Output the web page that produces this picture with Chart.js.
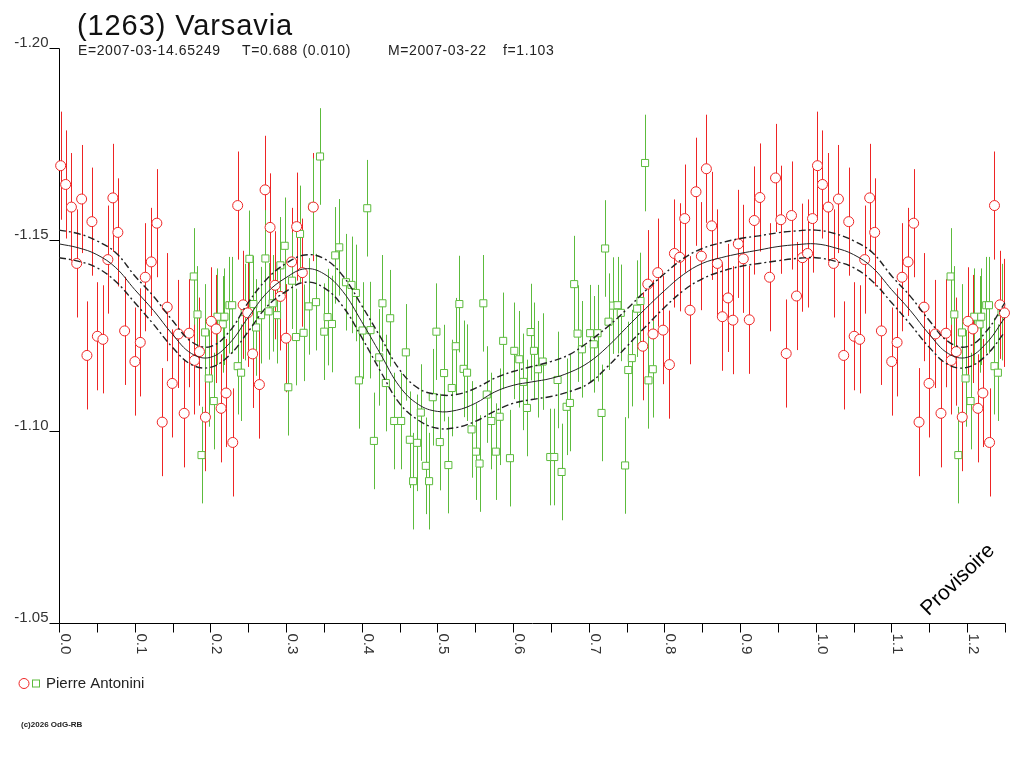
<!DOCTYPE html>
<html>
<head>
<meta charset="utf-8">
<title>(1263) Varsavia</title>
<script src="https://cdn.jsdelivr.net/npm/chart.js@4.4.0/dist/chart.umd.min.js"></script>
<style>
    html, body { margin: 0; padding: 0; background: #ffffff; }
    #wrap { position: relative; width: 1024px; height: 768px; }
</style>
</head>
<body>
<div id="wrap"><canvas id="lightcurve"></canvas></div>
<script>
/* ===== Données ===== */

// Série rouge (cercles)
const redPhase = [0.0022,0.0088,0.0164,0.0299,0.0234,0.0369,0.0435,0.0507,0.0580,0.0646,
    0.0712,0.0778,0.0867,0.1003,0.1074,0.1140,0.1219,0.1293,0.1364,0.1430,
    0.1496,0.1579,0.1654,0.1720,0.1790,0.1856,0.1935,0.2011,0.2077,0.2142,
    0.2208,0.2296,0.2361,0.2433,0.2493,0.2559,0.2648,0.2723,0.2789,0.2855,
    0.2925,0.3000,0.3074,0.3140,0.3215,0.3360,
    0.7714,0.7780,0.7850,0.7912,0.7982,0.8066,0.8132,0.8202,0.8268,0.8338,
    0.8417,0.8488,0.8554,0.8624,0.8699,0.8765,0.8839,0.8905,0.8976,0.9042,
    0.9121,0.9187,0.9261,0.9389,0.9468,0.9538,0.9609,0.9679,0.9745,0.9824,
    0.9891,0.9957];
const redMag = [-1.1693,-1.1644,-1.1585,-1.1606,-1.1438,-1.1198,-1.1547,-1.1248,-1.1240,-1.1448,
    -1.1609,-1.1519,-1.1262,-1.1182,-1.1232,-1.1402,-1.1442,-1.1543,-1.1024,-1.1324,
    -1.1125,-1.1254,-1.1047,-1.1256,-1.1185,-1.1208,-1.1037,-1.1287,-1.1267,-1.1060,
    -1.1100,-1.0971,-1.1589,-1.1330,-1.1309,-1.1202,-1.1122,-1.1630,-1.1532,-1.1381,
    -1.1352,-1.1243,-1.1442,-1.1534,-1.1414,-1.1585,
    -1.1222,-1.1384,-1.1254,-1.1414,-1.1264,-1.1174,-1.1464,-1.1454,-1.1555,-1.1316,
    -1.1625,-1.1457,-1.1685,-1.1536,-1.1438,-1.1299,-1.1348,-1.1290,-1.1489,-1.1450,
    -1.1291,-1.1550,-1.1610,-1.1402,-1.1661,-1.1552,-1.1203,-1.1563,-1.1353,-1.1453,
    -1.1464,-1.1555];
const redErr = 0.0141;

// Série verte (carrés)
const greenPhase = [0.1781,0.1830,0.1883,0.1931,0.1979,0.2045,0.2094,0.2164,0.2186,0.2252,
    0.2288,0.2361,0.2406,0.2454,0.2516,0.2569,0.2604,0.2670,0.2727,0.2770,
    0.2823,0.2881,0.2925,0.2982,0.3030,0.3079,0.3132,0.3185,0.3232,0.3298,
    0.3351,0.3396,0.3449,0.3505,0.3549,0.3607,0.3650,0.3703,0.3792,0.3865,
    0.3923,0.3963,0.4011,0.4073,0.4116,0.4161,0.4231,0.4274,0.4319,0.4376,
    0.4429,0.4521,0.4583,0.4636,0.4679,0.4732,0.4781,0.4847,0.4890,0.4939,
    0.4987,0.5032,0.5088,0.5145,0.5190,0.5243,0.5290,0.5346,0.5392,0.5451,
    0.5511,0.5557,0.5607,0.5652,0.5712,0.5772,0.5823,0.5869,0.5959,0.6016,
    0.6082,0.6135,0.6183,0.6232,0.6276,0.6329,0.6391,0.6491,0.6544,0.6588,
    0.6641,0.6707,0.6751,0.6807,0.6852,0.6909,0.7018,0.7067,0.7116,0.7169,
    0.7216,0.7261,0.7322,0.7380,0.7423,0.7480,0.7522,0.7569,0.7639,0.7683,
    0.7744,0.7789,0.7846];
const greenMag = [-1.1404,-1.1305,-1.0938,-1.1258,-1.1138,-1.1079,-1.1299,-1.1279,-1.1299,-1.1329,
    -1.1329,-1.1170,-1.1153,-1.1311,-1.1450,-1.1332,-1.1271,-1.1303,-1.1451,-1.1313,
    -1.1334,-1.1303,-1.1433,-1.1484,-1.1115,-1.1393,-1.1246,-1.1515,-1.1257,-1.1326,
    -1.1586,-1.1337,-1.1717,-1.1260,-1.1298,-1.1280,-1.1459,-1.1480,-1.1389,-1.1382,
    -1.1361,-1.1133,-1.1263,-1.1582,-1.1264,-1.0975,-1.1193,-1.1334,-1.1126,-1.1295,
    -1.1027,-1.1027,-1.1206,-1.0978,-1.0870,-1.0970,-1.1049,-1.0910,-1.0870,-1.1089,
    -1.1260,-1.0972,-1.1152,-1.0912,-1.1113,-1.1222,-1.1332,-1.1163,-1.1153,-1.1005,
    -1.0947,-1.0916,-1.1334,-1.1096,-1.1027,-1.0947,-1.1038,-1.1236,-1.0930,-1.1210,
    -1.1188,-1.1129,-1.1061,-1.1259,-1.1210,-1.1162,-1.1182,-1.0933,-1.0933,-1.1134,
    -1.0894,-1.1064,-1.1074,-1.1384,-1.1255,-1.1214,-1.1256,-1.1227,-1.1256,-1.1048,
    -1.1477,-1.1286,-1.1328,-1.1329,-1.1309,-1.0911,-1.1160,-1.1191,-1.1320,-1.1340,
    -1.1700,-1.1133,-1.1162];
const greenErr = 0.0126;

// Ajustement (courbe centrale + enveloppes)
const fitPhase = [0.000,0.025,0.050,0.075,0.100,0.125,0.150,0.175,0.200,0.225,
    0.250,0.275,0.300,0.325,0.350,0.375,0.400,0.425,0.450,0.475,
    0.500,0.525,0.550,0.575,0.600,0.625,0.650,0.675,0.700,0.725,
    0.750,0.775,0.800,0.825,0.850,0.875,0.900,0.925,0.950,0.975,1.000];
const fitMid = [-1.1489,-1.1479,-1.1461,-1.1427,-1.1370,-1.1315,-1.1253,-1.1203,-1.1193,-1.1229,
    -1.1297,-1.1362,-1.1401,-1.1424,-1.1411,-1.1365,-1.1286,-1.1201,-1.1117,-1.1070,
    -1.1052,-1.1055,-1.1073,-1.1102,-1.1120,-1.1129,-1.1138,-1.1154,-1.1180,-1.1221,
    -1.1271,-1.1320,-1.1367,-1.1409,-1.1438,-1.1453,-1.1464,-1.1473,-1.1482,-1.1487,-1.1489];
const fitUpper = [-1.1525,-1.1516,-1.1497,-1.1466,-1.1406,-1.1352,-1.1289,-1.1234,-1.1221,-1.1260,
    -1.1336,-1.1398,-1.1438,-1.1460,-1.1451,-1.1406,-1.1328,-1.1245,-1.1161,-1.1112,
    -1.1096,-1.1096,-1.1112,-1.1138,-1.1156,-1.1169,-1.1182,-1.1201,-1.1234,-1.1273,
    -1.1318,-1.1367,-1.1411,-1.1451,-1.1477,-1.1492,-1.1503,-1.1510,-1.1518,-1.1523,-1.1525];
const fitLower = [-1.1453,-1.1444,-1.1427,-1.1391,-1.1336,-1.1279,-1.1219,-1.1174,-1.1167,-1.1198,
    -1.1260,-1.1326,-1.1365,-1.1389,-1.1375,-1.1326,-1.1245,-1.1156,-1.1073,-1.1029,
    -1.1008,-1.1010,-1.1026,-1.1052,-1.1073,-1.1083,-1.1091,-1.1104,-1.1125,-1.1169,
    -1.1221,-1.1273,-1.1323,-1.1367,-1.1398,-1.1417,-1.1430,-1.1438,-1.1445,-1.1451,-1.1453];

// Graduations
const yTickValues = [-1.20, -1.15, -1.10, -1.05];
const yTickLabels = ['-1.20', '-1.15', '-1.10', '-1.05'];
const xTickValues = [0.0, 0.1, 0.2, 0.3, 0.4, 0.5, 0.6, 0.7, 0.8, 0.9, 1.0, 1.1, 1.2];
const xTickLabels = ['0.0', '0.1', '0.2', '0.3', '0.4', '0.5', '0.6', '0.7', '0.8', '0.9', '1.0', '1.1', '1.2'];
const xMinorTicks = [0.05, 0.15, 0.25, 0.35, 0.45, 0.55, 0.65, 0.75, 0.85, 0.95, 1.05, 1.15, 1.25];

const PHASE_MAX = 1.25;
const RED = '#ee2424';
const GREEN = '#5cbb3c';
const FONT = '"Liberation Sans", Arial, sans-serif';

// La phase est repliée : on recopie les mesures à phase+1 tant qu'elles restent dans le cadre
function foldPoints(phases, mags) {
    const pts = [];
    phases.forEach((p, i) => {
        pts.push({ x: p, y: mags[i] });
        if (p + 1 <= PHASE_MAX + 1e-9) pts.push({ x: p + 1, y: mags[i] });
    });
    return pts;
}

function foldCurve(phases, values) {
    const pts = phases.map((p, i) => ({ x: p, y: values[i] }));
    phases.forEach((p, i) => {
        if (p > 0 && p + 1 <= PHASE_MAX + 1e-9) pts.push({ x: p + 1, y: values[i] });
    });
    return pts.sort((a, b) => a.x - b.x);
}

/* ===== Barres d'erreur ===== */
const errorBars = {
    id: 'errorBars',
    beforeDatasetsDraw(chart) {
        const { ctx, scales: { x, y } } = chart;
        chart.data.datasets.forEach(ds => {
            if (!ds.errBar) return;
            ctx.save();
            ctx.strokeStyle = ds.borderColor;
            ctx.lineWidth = 1;
            ctx.beginPath();
            ds.data.forEach(pt => {
                const px = Math.round(x.getPixelForValue(pt.x)) + 0.5;
                ctx.moveTo(px, y.getPixelForValue(pt.y - ds.errBar));
                ctx.lineTo(px, y.getPixelForValue(pt.y + ds.errBar));
            });
            ctx.stroke();
            ctx.restore();
        });
    }
};

/* ===== Axes dessinés à la main (style de l'original) ===== */
const axesPlugin = {
    id: 'axesPlugin',
    beforeDatasetsDraw(chart) {
        const { ctx, chartArea: a, scales: { x, y } } = chart;
        const x0 = Math.round(a.left) + 0.5;
        const yb = Math.round(a.bottom) + 0.5;
        ctx.save();
        ctx.strokeStyle = '#000';
        ctx.lineWidth = 1;
        ctx.beginPath();
        ctx.moveTo(x0, Math.round(a.top) + 0.5);
        ctx.lineTo(x0, yb);
        ctx.lineTo(Math.round(a.right) + 0.5, yb);
        yTickValues.forEach(v => {
            const py = Math.round(y.getPixelForValue(v)) + 0.5;
            ctx.moveTo(x0 - 10, py);
            ctx.lineTo(x0, py);
        });
        xTickValues.concat(xMinorTicks).forEach(v => {
            const px = Math.round(x.getPixelForValue(v)) + 0.5;
            ctx.moveTo(px, yb);
            ctx.lineTo(px, yb + 9);
        });
        ctx.stroke();

        ctx.fillStyle = '#333';
        ctx.font = '15px ' + FONT;
        ctx.textAlign = 'right';
        ctx.textBaseline = 'alphabetic';
        yTickValues.forEach((v, i) => {
            ctx.fillText(yTickLabels[i], x0 - 11, y.getPixelForValue(v) - 1);
        });
        // étiquettes de phase tournées de 90° (lecture de haut en bas)
        xTickValues.forEach((v, i) => {
            ctx.save();
            ctx.translate(x.getPixelForValue(v) + 2, yb + 10);
            ctx.rotate(Math.PI / 2);
            ctx.textAlign = 'left';
            ctx.textBaseline = 'alphabetic';
            ctx.fillText(xTickLabels[i], 0, 0);
            ctx.restore();
        });
        ctx.restore();
    }
};

/* ===== Titre, légende, mentions ===== */
const decorPlugin = {
    id: 'decorPlugin',
    afterDraw(chart) {
        const ctx = chart.ctx;
        ctx.save();
        ctx.fillStyle = '#111';
        ctx.textAlign = 'left';
        ctx.textBaseline = 'alphabetic';
        ctx.font = '29px ' + FONT;
        ctx.letterSpacing = '0.9px';
        ctx.fillText('(1263) Varsavia', 77, 35);

        ctx.font = '14px ' + FONT;
        ctx.letterSpacing = '0.6px';
        ctx.fillStyle = '#222';
        ctx.fillText('E=2007-03-14.65249', 78, 55);
        ctx.fillText('T=0.688 (0.010)', 242, 55);
        ctx.fillText('M=2007-03-22', 388, 55);
        ctx.fillText('f=1.103', 503, 55);
        ctx.letterSpacing = '0px';

        // légende
        ctx.lineWidth = 1;
        ctx.strokeStyle = RED;
        ctx.beginPath();
        ctx.arc(24, 683.5, 5, 0, Math.PI * 2);
        ctx.stroke();
        ctx.strokeStyle = GREEN;
        ctx.strokeRect(32.5, 680, 7, 7);
        ctx.fillStyle = '#222';
        ctx.font = '15px ' + FONT;
        ctx.textBaseline = 'middle';
        ctx.fillText('Pierre Antonini', 46, 684);

        ctx.font = 'bold 8px ' + FONT;
        ctx.fillText('(c)2026 OdG-RB', 21, 725);

        // filigrane
        ctx.save();
        ctx.translate(958, 580);
        ctx.rotate(-44 * Math.PI / 180);
        ctx.font = '21px ' + FONT;
        ctx.fillStyle = '#000';
        ctx.textAlign = 'center';
        ctx.fillText('Provisoire', 0, 0);
        ctx.restore();
        ctx.restore();
    }
};

const curveStyle = {
    type: 'line',
    borderColor: '#222',
    pointRadius: 0,
    fill: false,
    tension: 0.4
};

new Chart(document.getElementById('lightcurve'), {
    type: 'scatter',
    data: {
        datasets: [
            Object.assign({}, curveStyle, { label: 'fit', data: foldCurve(fitPhase, fitMid), borderWidth: 1 }),
            Object.assign({}, curveStyle, { label: 'fit+', data: foldCurve(fitPhase, fitUpper), borderWidth: 1.4, borderDash: [7, 3, 2, 3] }),
            Object.assign({}, curveStyle, { label: 'fit-', data: foldCurve(fitPhase, fitLower), borderWidth: 1.4, borderDash: [7, 3, 2, 3] }),
            {
                label: 'Pierre Antonini (1)',
                data: foldPoints(redPhase, redMag),
                errBar: redErr,
                pointStyle: 'circle',
                pointRadius: 5,
                borderWidth: 1,
                borderColor: RED,
                backgroundColor: '#ffffff',
                clip: false
            },
            {
                label: 'Pierre Antonini (2)',
                data: foldPoints(greenPhase, greenMag),
                errBar: greenErr,
                pointStyle: 'rect',
                pointRadius: 5,
                borderWidth: 1,
                borderColor: GREEN,
                backgroundColor: '#ffffff',
                clip: false
            }
        ]
    },
    options: {
        responsive: true,
        maintainAspectRatio: false,
        animation: false,
        devicePixelRatio: 1,
        layout: { padding: { left: 59, right: 19, top: 48, bottom: 145 } },
        scales: {
            x: { type: 'linear', min: 0, max: PHASE_MAX, display: false },
            y: { type: 'linear', min: -1.20, max: -1.05, reverse: true, display: false }
        },
        plugins: {
            legend: { display: false },
            tooltip: { enabled: false }
        }
    },
    plugins: [axesPlugin, errorBars, decorPlugin]
});
</script>
</body>
</html>
